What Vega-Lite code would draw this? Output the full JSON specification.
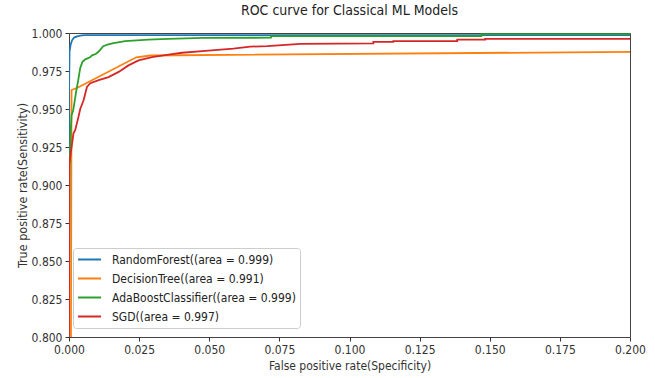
{
  "$schema": "https://vega.github.io/schema/vega-lite/v6.json",
  "width": 561,
  "height": 304,
  "autosize": {"type": "none"},
  "padding": {"left": 69, "top": 33, "right": 25, "bottom": 41},
  "background": "white",
  "title": {"text": "ROC curve for Classical ML Models", "fontSize": 14, "font": "DejaVu Sans Condensed, Liberation Sans Narrow, DejaVu Sans", "fontWeight": "normal", "color": "#222", "offset": 9},
  "config": {
    "view": {"stroke": "#444", "strokeWidth": 1},
    "font": "DejaVu Sans Condensed, Liberation Sans Narrow, DejaVu Sans",
    "axis": {"grid": false, "domain": false, "labelFlush": false, "tickColor": "#333", "tickSize": 4, "labelColor": "#333", "titleColor": "#333", "labelFontSize": 12, "titleFontSize": 12, "titleFontWeight": "normal", "labelFont": "DejaVu Sans Condensed, Liberation Sans Narrow, DejaVu Sans", "titleFont": "DejaVu Sans Condensed, Liberation Sans Narrow, DejaVu Sans"}
  },
  "data": {"values": [
    {"model": "RandomForest((area = 0.999)", "i": 0, "fpr": 0, "tpr": 0.8},
    {"model": "RandomForest((area = 0.999)", "i": 1, "fpr": 0, "tpr": 0.96},
    {"model": "RandomForest((area = 0.999)", "i": 2, "fpr": 0.0002, "tpr": 0.988},
    {"model": "RandomForest((area = 0.999)", "i": 3, "fpr": 0.0006, "tpr": 0.9925},
    {"model": "RandomForest((area = 0.999)", "i": 4, "fpr": 0.0011, "tpr": 0.9952},
    {"model": "RandomForest((area = 0.999)", "i": 5, "fpr": 0.0018, "tpr": 0.997},
    {"model": "RandomForest((area = 0.999)", "i": 6, "fpr": 0.0029, "tpr": 0.9978},
    {"model": "RandomForest((area = 0.999)", "i": 7, "fpr": 0.0045, "tpr": 0.9984},
    {"model": "RandomForest((area = 0.999)", "i": 8, "fpr": 0.006, "tpr": 0.9986},
    {"model": "RandomForest((area = 0.999)", "i": 9, "fpr": 0.2, "tpr": 0.9986},

    {"model": "DecisionTree((area = 0.991)", "i": 0, "fpr": 0.0007, "tpr": 0.8},
    {"model": "DecisionTree((area = 0.991)", "i": 1, "fpr": 0.0009, "tpr": 0.9625},
    {"model": "DecisionTree((area = 0.991)", "i": 2, "fpr": 0.003, "tpr": 0.964},
    {"model": "DecisionTree((area = 0.991)", "i": 3, "fpr": 0.024, "tpr": 0.984},
    {"model": "DecisionTree((area = 0.991)", "i": 4, "fpr": 0.029, "tpr": 0.9852},
    {"model": "DecisionTree((area = 0.991)", "i": 5, "fpr": 0.2, "tpr": 0.9876},

    {"model": "AdaBoostClassifier((area = 0.999)", "i": 0, "fpr": 0, "tpr": 0.8},
    {"model": "AdaBoostClassifier((area = 0.999)", "i": 1, "fpr": 0.0002, "tpr": 0.91},
    {"model": "AdaBoostClassifier((area = 0.999)", "i": 2, "fpr": 0.0006, "tpr": 0.935},
    {"model": "AdaBoostClassifier((area = 0.999)", "i": 3, "fpr": 0.0009, "tpr": 0.946},
    {"model": "AdaBoostClassifier((area = 0.999)", "i": 4, "fpr": 0.0015, "tpr": 0.949},
    {"model": "AdaBoostClassifier((area = 0.999)", "i": 5, "fpr": 0.002, "tpr": 0.955},
    {"model": "AdaBoostClassifier((area = 0.999)", "i": 6, "fpr": 0.0026, "tpr": 0.962},
    {"model": "AdaBoostClassifier((area = 0.999)", "i": 7, "fpr": 0.0032, "tpr": 0.968},
    {"model": "AdaBoostClassifier((area = 0.999)", "i": 8, "fpr": 0.004, "tpr": 0.977},
    {"model": "AdaBoostClassifier((area = 0.999)", "i": 9, "fpr": 0.0048, "tpr": 0.981},
    {"model": "AdaBoostClassifier((area = 0.999)", "i": 10, "fpr": 0.0058, "tpr": 0.9827},
    {"model": "AdaBoostClassifier((area = 0.999)", "i": 11, "fpr": 0.0075, "tpr": 0.984},
    {"model": "AdaBoostClassifier((area = 0.999)", "i": 12, "fpr": 0.0082, "tpr": 0.9853},
    {"model": "AdaBoostClassifier((area = 0.999)", "i": 13, "fpr": 0.0095, "tpr": 0.9862},
    {"model": "AdaBoostClassifier((area = 0.999)", "i": 14, "fpr": 0.0106, "tpr": 0.9878},
    {"model": "AdaBoostClassifier((area = 0.999)", "i": 15, "fpr": 0.0122, "tpr": 0.9913},
    {"model": "AdaBoostClassifier((area = 0.999)", "i": 16, "fpr": 0.014, "tpr": 0.9925},
    {"model": "AdaBoostClassifier((area = 0.999)", "i": 17, "fpr": 0.0159, "tpr": 0.9934},
    {"model": "AdaBoostClassifier((area = 0.999)", "i": 18, "fpr": 0.02, "tpr": 0.9947},
    {"model": "AdaBoostClassifier((area = 0.999)", "i": 19, "fpr": 0.0283, "tpr": 0.9956},
    {"model": "AdaBoostClassifier((area = 0.999)", "i": 20, "fpr": 0.0354, "tpr": 0.9962},
    {"model": "AdaBoostClassifier((area = 0.999)", "i": 21, "fpr": 0.048, "tpr": 0.9968},
    {"model": "AdaBoostClassifier((area = 0.999)", "i": 22, "fpr": 0.072, "tpr": 0.9969},
    {"model": "AdaBoostClassifier((area = 0.999)", "i": 23, "fpr": 0.072, "tpr": 0.998},
    {"model": "AdaBoostClassifier((area = 0.999)", "i": 24, "fpr": 0.147, "tpr": 0.998},
    {"model": "AdaBoostClassifier((area = 0.999)", "i": 25, "fpr": 0.147, "tpr": 0.9993},
    {"model": "AdaBoostClassifier((area = 0.999)", "i": 26, "fpr": 0.2, "tpr": 0.9993},

    {"model": "SGD((area = 0.997)", "i": 0, "fpr": 0, "tpr": 0.8},
    {"model": "SGD((area = 0.997)", "i": 1, "fpr": 0.0001, "tpr": 0.914},
    {"model": "SGD((area = 0.997)", "i": 2, "fpr": 0.0016, "tpr": 0.934},
    {"model": "SGD((area = 0.997)", "i": 3, "fpr": 0.0022, "tpr": 0.936},
    {"model": "SGD((area = 0.997)", "i": 4, "fpr": 0.0034, "tpr": 0.945},
    {"model": "SGD((area = 0.997)", "i": 5, "fpr": 0.004, "tpr": 0.95},
    {"model": "SGD((area = 0.997)", "i": 6, "fpr": 0.0052, "tpr": 0.9557},
    {"model": "SGD((area = 0.997)", "i": 7, "fpr": 0.0064, "tpr": 0.9645},
    {"model": "SGD((area = 0.997)", "i": 8, "fpr": 0.0076, "tpr": 0.967},
    {"model": "SGD((area = 0.997)", "i": 9, "fpr": 0.0106, "tpr": 0.969},
    {"model": "SGD((area = 0.997)", "i": 10, "fpr": 0.0141, "tpr": 0.971},
    {"model": "SGD((area = 0.997)", "i": 11, "fpr": 0.0177, "tpr": 0.9744},
    {"model": "SGD((area = 0.997)", "i": 12, "fpr": 0.0212, "tpr": 0.9787},
    {"model": "SGD((area = 0.997)", "i": 13, "fpr": 0.0248, "tpr": 0.982},
    {"model": "SGD((area = 0.997)", "i": 14, "fpr": 0.0296, "tpr": 0.9842},
    {"model": "SGD((area = 0.997)", "i": 15, "fpr": 0.0355, "tpr": 0.9858},
    {"model": "SGD((area = 0.997)", "i": 16, "fpr": 0.0403, "tpr": 0.987},
    {"model": "SGD((area = 0.997)", "i": 17, "fpr": 0.0486, "tpr": 0.9882},
    {"model": "SGD((area = 0.997)", "i": 18, "fpr": 0.0586, "tpr": 0.9897},
    {"model": "SGD((area = 0.997)", "i": 19, "fpr": 0.0646, "tpr": 0.991},
    {"model": "SGD((area = 0.997)", "i": 20, "fpr": 0.0707, "tpr": 0.9914},
    {"model": "SGD((area = 0.997)", "i": 21, "fpr": 0.0825, "tpr": 0.9928},
    {"model": "SGD((area = 0.997)", "i": 22, "fpr": 0.1085, "tpr": 0.9932},
    {"model": "SGD((area = 0.997)", "i": 23, "fpr": 0.1085, "tpr": 0.9941},
    {"model": "SGD((area = 0.997)", "i": 24, "fpr": 0.1156, "tpr": 0.9941},
    {"model": "SGD((area = 0.997)", "i": 25, "fpr": 0.1156, "tpr": 0.9947},
    {"model": "SGD((area = 0.997)", "i": 26, "fpr": 0.1384, "tpr": 0.9947},
    {"model": "SGD((area = 0.997)", "i": 27, "fpr": 0.1384, "tpr": 0.9956},
    {"model": "SGD((area = 0.997)", "i": 28, "fpr": 0.1484, "tpr": 0.9956},
    {"model": "SGD((area = 0.997)", "i": 29, "fpr": 0.1484, "tpr": 0.9962},
    {"model": "SGD((area = 0.997)", "i": 30, "fpr": 0.2, "tpr": 0.9962}
  ]},
  "mark": {"type": "line", "strokeWidth": 1.8, "clip": true},
  "encoding": {
    "x": {"field": "fpr", "type": "quantitative", "scale": {"domain": [0, 0.2], "nice": false, "zero": false},
      "axis": {"title": "False positive rate(Specificity)", "values": [0, 0.025, 0.05, 0.075, 0.1, 0.125, 0.15, 0.175, 0.2], "format": ".3f", "labelPadding": 3, "titlePadding": 5}},
    "y": {"field": "tpr", "type": "quantitative", "scale": {"domain": [0.8, 1.0], "nice": false, "zero": false},
      "axis": {"title": "True positive rate(Sensitivity)", "values": [0.8, 0.825, 0.85, 0.875, 0.9, 0.925, 0.95, 0.975, 1.0], "format": ".3f", "labelPadding": 3, "titlePadding": 2, "titleFontSize": 12.5}},
    "order": {"field": "i", "type": "quantitative"},
    "color": {"field": "model", "type": "nominal",
      "scale": {"domain": ["RandomForest((area = 0.999)", "DecisionTree((area = 0.991)", "AdaBoostClassifier((area = 0.999)", "SGD((area = 0.997)"], "range": ["#1f77b4", "#ff7f0e", "#2ca02c", "#d62728"]},
      "legend": {"title": null, "orient": "none", "legendX": 4, "legendY": 215, "symbolType": "stroke", "symbolSize": 529, "symbolStrokeWidth": 2, "clipHeight": 15, "rowPadding": 4, "padding": 4, "labelOffset": 10, "labelFontSize": 12, "labelColor": "#222", "strokeColor": "#ccc", "fillColor": "rgba(255,255,255,0.8)", "cornerRadius": 3, "labelLimit": 300}}
  }
}
